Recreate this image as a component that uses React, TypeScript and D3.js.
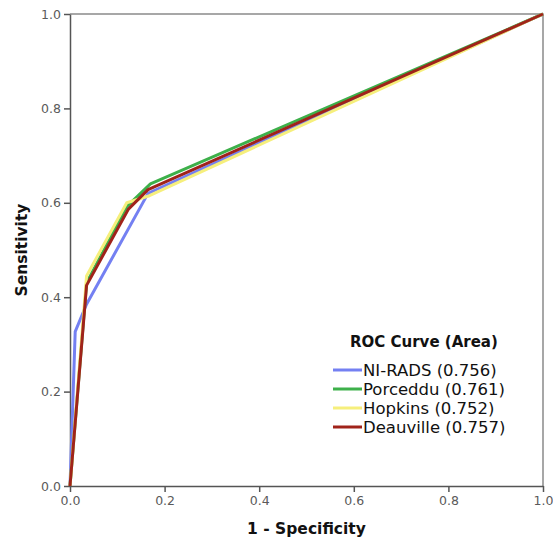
import { useEffect, useRef } from "react";
import * as d3 from "d3";

const seriesNames = ["NI-RADS", "Porceddu", "Hopkins", "Deauville"];
const seriesAreas = ["0.756", "0.761", "0.752", "0.757"];
const seriesColors = ["#7480f2", "#3db04a", "#f6ef7c", "#a0231a"];

// 1 - specificity / sensitivity for each curve
const niradsFpr = [0, 0.011, 0.035, 0.165, 1];
const niradsTpr = [0, 0.327, 0.385, 0.62, 1];
const porcedduFpr = [0, 0.035, 0.12, 0.17, 1];
const porcedduTpr = [0, 0.43, 0.592, 0.64, 1];
const hopkinsFpr = [0, 0.035, 0.12, 0.168, 1];
const hopkinsTpr = [0, 0.445, 0.6, 0.615, 1];
const deauvilleFpr = [0, 0.035, 0.123, 0.165, 1];
const deauvilleTpr = [0, 0.425, 0.586, 0.628, 1];

const tickValues = [0, 0.2, 0.4, 0.6, 0.8, 1.0];

const W = 553;
const H = 539;
const margin = { left: 70, right: 10, top: 14, bottom: 53 };

export default function App() {
  const ref = useRef<SVGSVGElement>(null);

  useEffect(() => {
    const svg = d3.select(ref.current);
    svg.selectAll("*").remove();

    const x = d3.scaleLinear().domain([0, 1]).range([margin.left, W - margin.right]);
    const y = d3.scaleLinear().domain([0, 1]).range([H - margin.bottom, margin.top]);

    const curves = [
      [niradsFpr, niradsTpr],
      [porcedduFpr, porcedduTpr],
      [hopkinsFpr, hopkinsTpr],
      [deauvilleFpr, deauvilleTpr],
    ];

    // frame (top and right)
    svg.append("path")
      .attr("d", `M${x(0)},${y(1)}H${x(1)}V${y(0)}`)
      .attr("fill", "none")
      .attr("stroke", "#8a8a8a")
      .attr("stroke-width", 1.5);

    const xAxis = svg.append("g")
      .attr("transform", `translate(0,${y(0)})`)
      .call(d3.axisBottom(x).tickValues(tickValues).tickFormat(d3.format(".1f")).tickSize(6).tickPadding(4).tickSizeOuter(0));
    const yAxis = svg.append("g")
      .attr("transform", `translate(${x(0)},0)`)
      .call(d3.axisLeft(y).tickValues(tickValues).tickFormat(d3.format(".1f")).tickSize(6).tickPadding(3).tickSizeOuter(0));

    [xAxis, yAxis].forEach((g) => {
      g.select(".domain").attr("stroke", "#555").attr("stroke-width", 1.5);
      g.selectAll(".tick line").attr("stroke", "#555").attr("stroke-width", 1.5);
      g.selectAll(".tick text")
        .attr("fill", "#5a5a5a")
        .style("font-family", "DejaVu Sans, sans-serif")
        .style("font-size", "12.5px");
    });

    const line = d3.line<[number, number]>()
      .x((d) => x(d[0]))
      .y((d) => y(d[1]));

    curves.forEach(([fx, ty], i) => {
      const pts = fx.map((v, j) => [v, ty[j]] as [number, number]);
      svg.append("path")
        .attr("d", line(pts))
        .attr("fill", "none")
        .attr("stroke", seriesColors[i])
        .attr("stroke-width", 3)
        .attr("stroke-linejoin", "round");
    });

    // axis titles
    svg.append("text")
      .attr("x", (x(0) + x(1)) / 2)
      .attr("y", 534)
      .attr("text-anchor", "middle")
      .style("font-family", "DejaVu Sans, sans-serif")
      .style("font-weight", "bold")
      .style("font-size", "15.5px")
      .attr("fill", "#111")
      .text("1 - Specificity");

    svg.append("text")
      .attr("transform", `translate(27,${(y(0) + y(1)) / 2}) rotate(-90)`)
      .attr("text-anchor", "middle")
      .style("font-family", "DejaVu Sans, sans-serif")
      .style("font-weight", "bold")
      .style("font-size", "15.5px")
      .attr("fill", "#111")
      .text("Sensitivity");

    // legend
    const lg = svg.append("g").attr("transform", "translate(333,342)");
    lg.append("text")
      .attr("x", 17)
      .attr("y", 0)
      .attr("dy", "0.35em")
      .style("font-family", "DejaVu Sans, sans-serif")
      .style("font-weight", "bold")
      .style("font-size", "15px")
      .attr("fill", "#111")
      .text("ROC Curve (Area)");

    seriesNames.forEach((name, i) => {
      const row = lg.append("g").attr("transform", `translate(0,${28 + i * 19})`);
      row.append("line")
        .attr("x1", 0).attr("x2", 29)
        .attr("stroke", seriesColors[i])
        .attr("stroke-width", 3);
      row.append("text")
        .attr("x", 30)
        .attr("dy", "0.35em")
        .style("font-family", "DejaVu Sans, sans-serif")
        .style("font-size", "16.5px")
        .attr("fill", "#111")
        .text(`${name} (${seriesAreas[i]})`);
    });
  }, []);

  return (
    <svg
      ref={ref}
      width={W}
      height={H}
      style={{ position: "absolute", left: 0, top: 0, background: "#fff" }}
    />
  );
}
